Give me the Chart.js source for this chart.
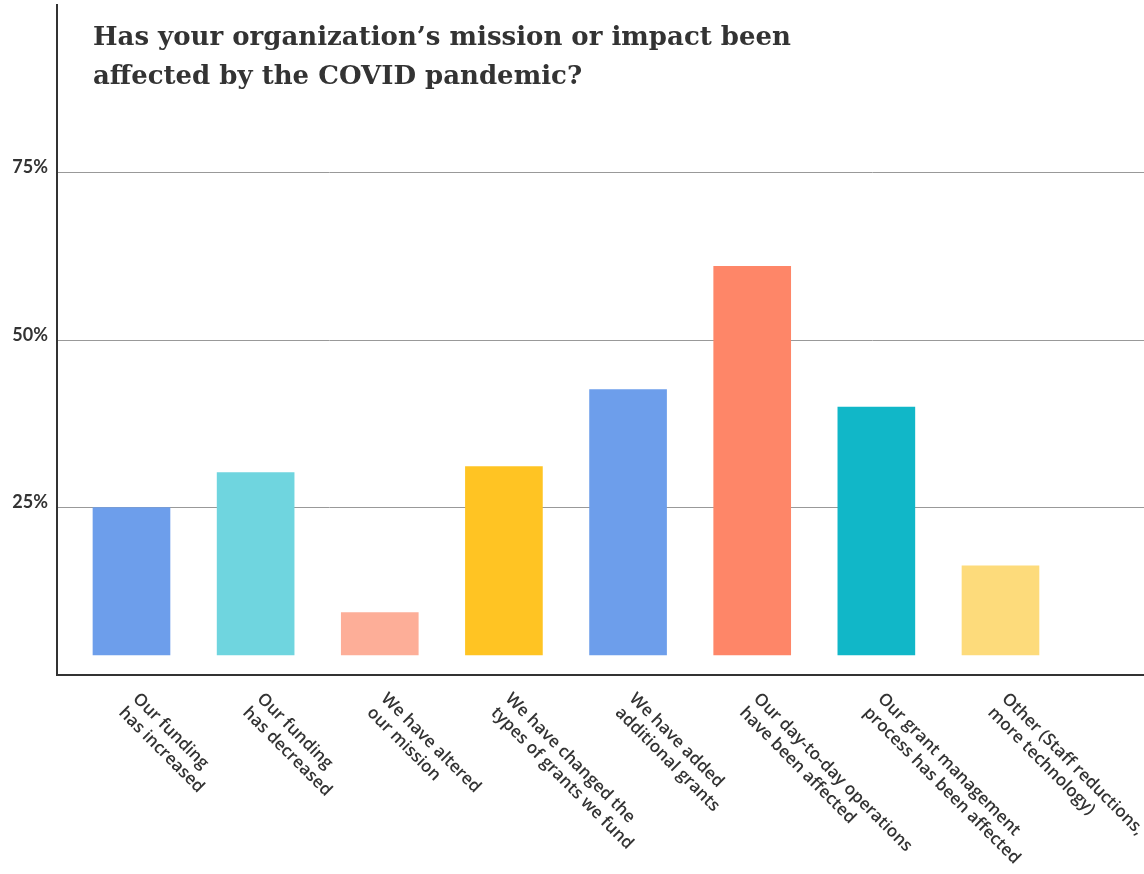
<!DOCTYPE html>
<html>
<head>
<meta charset="utf-8">
<title>Mission or impact affected by COVID</title>
<script src="https://cdn.jsdelivr.net/npm/chart.js@4.4.0/dist/chart.umd.min.js"></script>
<style>
  html, body { margin: 0; padding: 0; background: #fff; }
  #wrap { position: relative; width: 1144px; height: 874px; }
  #title {
    position: absolute; left: 93px; top: 17px; margin: 0;
    font: bold 26px "DejaVu Serif", serif; line-height: 39px; color: #333;
  }
</style>
</head>
<body>
<div id="wrap">
  <canvas id="chart"></canvas>
  <h1 id="title">Has your organization’s mission or impact been<br>affected by the COVID pandemic?</h1>
</div>
<script>
// answers, each split into the two lines shown under the axis
const categories = [
  ['Our funding', 'has increased'],
  ['Our funding', 'has decreased'],
  ['We have altered', 'our mission'],
  ['We have changed the', 'types of grants we fund'],
  ['We have added', 'additional grants'],
  ['Our day-to-day operations', 'have been affected'],
  ['Our grant management', 'process has been affected'],
  ['Other (Staff reductions,', 'more technology)']
];
const responses = [25, 30.2, 9.3, 31.1, 42.6, 61, 40, 16.3];
const barColors = ['#6d9eeb', '#6fd5df', '#fdae98', '#ffc423', '#6d9eeb', '#fe8668', '#11b7c8', '#fddb7b'];
const yTicks = [25, 50, 75];

// labels under the axis, slanted down to the right
const slantedLabels = {
    id: 'slantedLabels',
    afterDraw(chart) {
        const ctx = chart.ctx;
        const x = chart.scales.x;
        ctx.save();
        ctx.font = '600 17px "Open Sans"';
        ctx.fillStyle = '#333';
        ctx.textAlign = 'left';
        ctx.textBaseline = 'top';
        categories.forEach((lines, i) => {
            ctx.save();
            ctx.translate(x.getPixelForValue(i) + 10, 690);
            ctx.rotate(Math.PI / 4);
            lines.forEach((line, k) => ctx.fillText(line, 0, k * 20));
            ctx.restore();
        });
        ctx.restore();
    }
};

new Chart(document.getElementById('chart'), {
    type: 'bar',
    data: {
        datasets: [{
            data: responses.map((v, i) => ({ x: i, y: v })),
            backgroundColor: barColors,
            base: 3,
            barThickness: 77
        }]
    },
    options: {
        responsive: true,
        maintainAspectRatio: false,
        animation: false,
        layout: { padding: { top: 5, right: 0, left: 0, bottom: 0 } },
        plugins: {
            legend: { display: false },
            tooltip: { enabled: false }
        },
        scales: {
            x: {
                type: 'linear',
                offset: false,
                min: -0.6,
                max: 8.156,
                ticks: { display: false },
                grid: { display: false },
                border: { display: true, color: '#333', width: 2 },
                afterFit: scale => { scale.height = 199; }
            },
            y: {
                min: 0,
                max: 100,
                afterFit: scale => {
                    scale.width = 57;
                    scale.paddingTop = 0;
                    scale.paddingBottom = 0;
                },
                afterBuildTicks: scale => {
                    scale.ticks = [0, ...yTicks, 100].map(v => ({ value: v }));
                },
                ticks: {
                    padding: 9,
                    labelOffset: -5,
                    color: '#333',
                    font: { family: 'Lato', size: 18, weight: 'bold' },
                    callback: v => yTicks.includes(v) ? v + '%' : ''
                },
                grid: {
                    drawTicks: false,
                    color: ctx => yTicks.includes(ctx.tick.value) ? '#999' : 'rgba(0,0,0,0)',
                    lineWidth: 1
                },
                border: { display: true, color: '#333', width: 2 }
            }
        }
    },
    plugins: [slantedLabels]
});
</script>
</body>
</html>
